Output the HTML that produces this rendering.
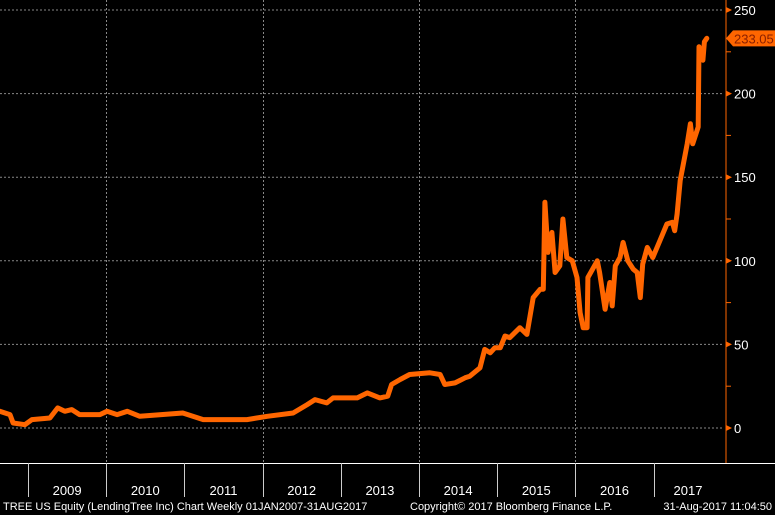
<!DOCTYPE html>
<html><head><meta charset="utf-8"><style>
html,body{margin:0;padding:0;background:#000;}
svg{display:block;font-family:"Liberation Sans",sans-serif;}
</style></head><body>
<svg id="chart" width="775" height="515" viewBox="0 0 775 515" xmlns="http://www.w3.org/2000/svg">
<rect x="0" y="0" width="775" height="515" fill="#000"/>
<g id="grid"></g>
<g id="xaxis"></g>
<g id="yaxis"></g>
<path id="line" fill="none" stroke="#ff6600" stroke-width="5" stroke-linejoin="round" stroke-linecap="round"/>
<g id="lastlabel"></g>
<text x="3" y="510" font-size="11" fill="#fff">TREE US Equity (LendingTree Inc) Chart  Weekly 01JAN2007-31AUG2017</text>
<text x="410" y="510" font-size="11" fill="#fff">Copyright© 2017 Bloomberg Finance L.P.</text>
<text x="772" y="510" font-size="11" fill="#fff" text-anchor="end">31-Aug-2017 11:04:50</text>
</svg>
<script>
const dates=[2008.64,2008.77,2008.81,2008.96,2009.05,2009.28,2009.38,2009.47,2009.56,2009.66,2009.92,2010.01,2010.14,2010.27,2010.43,2010.98,2011.24,2011.80,2012.06,2012.39,2012.57,2012.67,2012.82,2012.90,2013.21,2013.34,2013.50,2013.60,2013.65,2013.76,2013.88,2014.14,2014.27,2014.33,2014.46,2014.59,2014.65,2014.78,2014.84,2014.91,2014.97,2015.04,2015.10,2015.16,2015.29,2015.38,2015.46,2015.55,2015.59,2015.61,2015.65,2015.70,2015.74,2015.80,2015.84,2015.89,2015.96,2016.02,2016.06,2016.10,2016.15,2016.16,2016.28,2016.31,2016.38,2016.44,2016.47,2016.51,2016.57,2016.61,2016.67,2016.74,2016.79,2016.83,2016.86,2016.92,2016.99,2017.08,2017.17,2017.24,2017.27,2017.30,2017.34,2017.43,2017.47,2017.50,2017.57,2017.58,2017.63,2017.65,2017.68];
const prices=[10,8,3,2,5,6,12,10,11,8,8,10,8,10,7,9,5,5,7,9,14,17,15,18,18,21,18,19,26,29,32,33,32,26,27,30,31,36,47,45,48,48,55,54,60,56,78,83,83,135,105,117,93,97,125,102,100,90,69,60,60,90,100,93,71,87,73,97,102,111,100,95,93,78,98,108,102,112,122,123,118,128,148,170,182,170,180,228,220,231,233.05];
const yTicks=[0,50,100,150,200,250];
const years=[2009,2010,2011,2012,2013,2014,2015,2016,2017];
const lastValue="233.05";
const NS="http://www.w3.org/2000/svg";
const X=t=>28+(t-2009)*78.2;
const Y=v=>428-v*1.672;
function mk(tag,attrs,parent){const e=document.createElementNS(NS,tag);for(const k in attrs)e.setAttribute(k,attrs[k]);parent.appendChild(e);return e;}
const grid=document.getElementById('grid'),xa=document.getElementById('xaxis'),ya=document.getElementById('yaxis');
yTicks.forEach(v=>{
  const l=mk('line',{x1:0,x2:722,y1:Y(v),y2:Y(v),stroke:'#888','stroke-width':1,'stroke-dasharray':'2,2'},grid);
  
  
  const tk=mk('path',{d:`M726 ${Y(v)-3}L732 ${Y(v)}L726 ${Y(v)+3}Z`,fill:'#ff6600'},ya);
  
  
  const tx=mk('text',{x:734,y:Y(v)+5,'font-size':13,fill:'#fff'},ya);
  tx.textContent=v;
  
  
});
for(let v=25;v<250;v+=50){
  const m=mk('line',{x1:726,x2:731,y1:Y(v),y2:Y(v),stroke:'#ff6600','stroke-width':1},ya);
  
  
}
const ax=mk('line',{x1:726,x2:726,y1:0,y2:463,stroke:'#ff6600','stroke-width':1},ya);


const bl=mk('line',{x1:0,x2:775,y1:463.5,y2:463.5,stroke:'#fff','stroke-width':1},xa);


years.concat([2018]).forEach((yr,i)=>{
  const x=Math.round(X(yr))+0.5;
  if(yr<2018){
  const d=mk('line',{x1:x,x2:x,y1:463,y2:497,stroke:'#ccc','stroke-width':1},xa);
  
  
  if(yr%2===0){
    const g=mk('line',{x1:x,x2:x,y1:0,y2:463,stroke:'#888','stroke-width':1,'stroke-dasharray':'2,2'},grid);
    
    
  }
  const t=mk('text',{x:Math.min(X(yr+0.5),688),y:495,'font-size':13,fill:'#fff','text-anchor':'middle'},xa);
  t.textContent=yr;
  
  
  }
});
document.getElementById('line').setAttribute('d',dates.map((t,i)=>(i?'L':'M')+X(t).toFixed(1)+' '+Y(prices[i]).toFixed(1)).join(''));
const ll=document.getElementById('lastlabel');
const ly=Y(prices[prices.length-1]);
const bx=mk('path',{d:`M726 ${ly}L733 ${ly-8}L775 ${ly-8}L775 ${ly+8}L733 ${ly+8}Z`,fill:'#ff6600'},ll);


const lt=mk('text',{x:734,y:ly+5,'font-size':13,fill:'#8a2000'},ll);
lt.textContent=lastValue;


</script>
</body></html>
